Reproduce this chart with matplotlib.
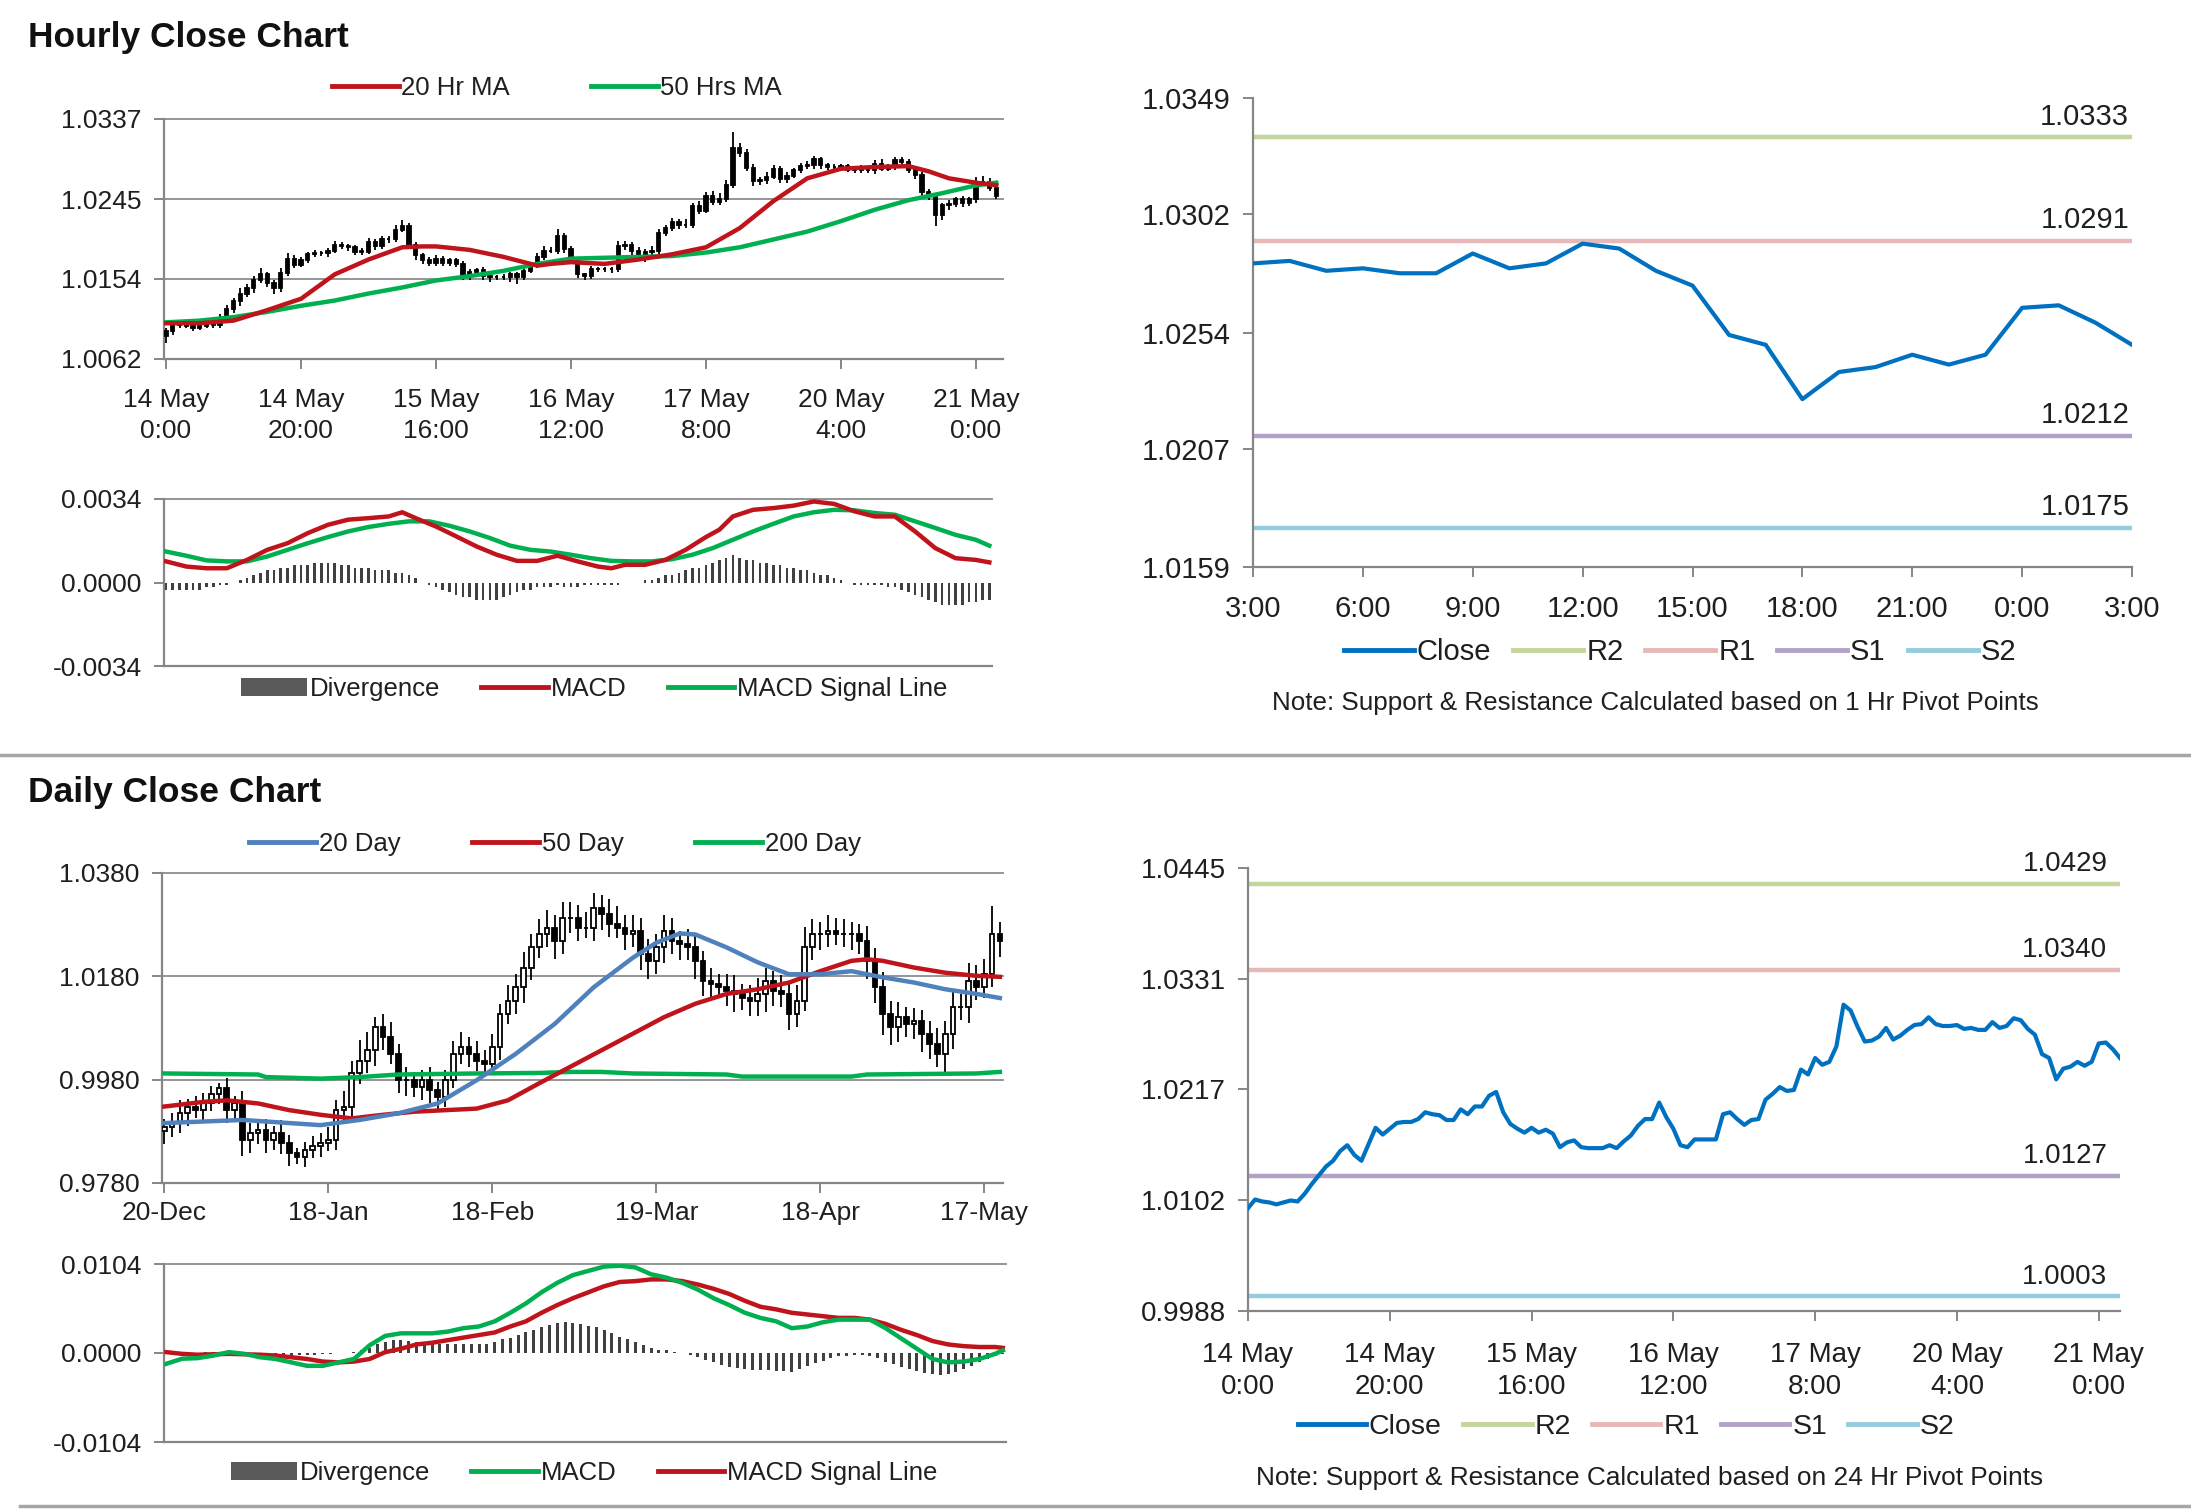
import numpy as np
import matplotlib
matplotlib.use('Agg')
import matplotlib.pyplot as plt
from matplotlib.lines import Line2D
from matplotlib.patches import Patch

plt.rcParams['font.family'] = ['Liberation Sans', 'DejaVu Sans']

W, H = 2191, 1511

# ---------------- data: hourly section ----------------
hourly_close = [
    1.0094, 1.0103, 1.0101, 1.0100, 1.0098, 1.0100, 1.0102, 1.0101, 1.0109, 1.0119,
    1.0128, 1.0137, 1.0143, 1.0153, 1.0159, 1.0149, 1.0143, 1.0160, 1.0177, 1.0170,
    1.0176, 1.0182, 1.0183, 1.0183, 1.0186, 1.0193, 1.0191, 1.0190, 1.0185, 1.0185,
    1.0196, 1.0191, 1.0199, 1.0199, 1.0210, 1.0214, 1.0193, 1.0181, 1.0176, 1.0172,
    1.0177, 1.0172, 1.0175, 1.0171, 1.0157, 1.0162, 1.0164, 1.0157, 1.0156, 1.0156,
    1.0156, 1.0159, 1.0156, 1.0163, 1.0169, 1.0179, 1.0186, 1.0186, 1.0203, 1.0188,
    1.0176, 1.0159, 1.0157, 1.0165, 1.0165, 1.0165, 1.0165, 1.0191, 1.0193, 1.0186,
    1.0180, 1.0185, 1.0186, 1.0206, 1.0212, 1.0219, 1.0215, 1.0216, 1.0237, 1.0232,
    1.0249, 1.0242, 1.0245, 1.0261, 1.0304, 1.0298, 1.0281, 1.0266, 1.0267, 1.0271,
    1.0280, 1.0268, 1.0272, 1.0278, 1.0283, 1.0284, 1.0291, 1.0284, 1.0282,
    1.0282, 1.0283, 1.0279, 1.0280, 1.0278, 1.0278, 1.0286, 1.0280, 1.0282, 1.0290,
    1.0288, 1.0279, 1.0273, 1.0253, 1.0249, 1.0227, 1.0238, 1.0240, 1.0245, 1.0241,
    1.0245, 1.0264, 1.0265, 1.0258, 1.0249,
]
hourly_first_open = 1.0088
# wick length beyond the candle body, in pips
hourly_hi_pips = [
    3, 2, 2, 3, 2, 2, 3, 3, 4, 5, 4, 6, 5, 4, 7, 3, 4, 6, 7, 4,
    3, 3, 4, 3, 3, 4, 3, 3, 3, 4, 5, 3, 4, 4, 6, 7, 4, 3, 3, 3,
    4, 3, 3, 3, 3, 3, 2, 3, 3, 2, 3, 3, 3, 4, 4, 5, 6, 4, 8, 3,
    3, 3, 2, 3, 2, 2, 2, 6, 4, 3, 4, 3, 5, 5, 4, 4, 3, 6, 4, 6,
    4, 5, 7, 6, 18, 6, 5, 4, 4, 5, 4, 3, 4, 3, 4, 5, 4, 3, 3, 4,
    3, 3, 3, 4, 3, 4, 5, 3, 4, 3, 3, 4, 3, 4, 3, 3, 4, 3, 4, 3,
    6, 7, 4, 3,
]
hourly_lo_pips = [
    8, 4, 3, 3, 4, 3, 3, 3, 3, 4, 4, 5, 4, 5, 4, 4, 6, 4, 3, 4,
    3, 4, 3, 3, 4, 3, 3, 4, 4, 4, 3, 4, 3, 4, 3, 3, 4, 5, 5, 4,
    4, 4, 4, 4, 5, 4, 4, 4, 6, 4, 4, 6, 8, 4, 3, 3, 4, 3, 4, 5,
    4, 4, 4, 3, 3, 3, 4, 3, 4, 5, 6, 7, 6, 4, 3, 3, 4, 3, 4, 4,
    3, 4, 3, 3, 3, 4, 4, 6, 5, 4, 3, 4, 4, 3, 3, 3, 4, 4, 4, 3,
    4, 3, 4, 3, 3, 4, 3, 3, 3, 3, 4, 5, 6, 5, 13, 6, 5, 4, 5, 4,
    4, 3, 4, 4,
]
hourly_xticks = [0, 20, 40, 60, 80, 100, 120]
hourly_xlabels = ['14 May\n0:00', '14 May\n20:00', '15 May\n16:00', '16 May\n12:00',
                  '17 May\n8:00', '20 May\n4:00', '21 May\n0:00']
hourly_yticks = [1.0062, 1.0154, 1.0245, 1.0337]

ma20h_x = [0, 5, 10, 15, 20, 25, 30, 35, 38, 40, 45, 50, 55, 57, 60, 65, 70, 75, 80,
           85, 90, 95, 100, 105, 110, 113, 116, 120, 123]
ma20h_y = [1.0103, 1.0103, 1.0106, 1.0118, 1.0131, 1.0159, 1.0176, 1.0190, 1.0191, 1.0191,
           1.0187, 1.0179, 1.0169, 1.0171, 1.0173, 1.0171, 1.0176, 1.0182, 1.0190,
           1.0212, 1.0243, 1.0269, 1.0280, 1.0282, 1.0283, 1.0277, 1.0269, 1.0264, 1.0261]
ma50h_x = [0, 5, 10, 15, 20, 25, 30, 35, 40, 45, 50, 55, 60, 65, 70, 75, 80, 85, 90,
           95, 100, 105, 110, 115, 120, 123]
ma50h_y = [1.0104, 1.0106, 1.0110, 1.0116, 1.0123, 1.0129, 1.0137, 1.0144, 1.0152, 1.0157,
           1.0163, 1.0171, 1.0177, 1.0178, 1.0179, 1.0180, 1.0184, 1.0190, 1.0199,
           1.0208, 1.0220, 1.0233, 1.0244, 1.0252, 1.0261, 1.0264]

macd_h_x = [0, 3, 6, 9, 12, 15, 18, 21, 24, 27, 30, 33, 35, 37, 40, 43, 46, 49, 52, 55,
            58, 61, 64, 66, 68, 71, 74, 77, 80, 82, 84, 87, 90, 93, 96, 99, 102, 105,
            108, 111, 114, 117, 120, 122]
macd_h = [0.00086, 0.00065, 0.00058, 0.00058, 0.00092, 0.00133, 0.00160, 0.00201, 0.00235,
          0.00256, 0.00262, 0.00269, 0.00286, 0.00262, 0.00228, 0.00188, 0.00147, 0.00113,
          0.00088, 0.00088, 0.00109, 0.00086, 0.00065, 0.00058, 0.00072, 0.00072, 0.00092,
          0.00133, 0.00185, 0.00215, 0.00269, 0.00296, 0.00303, 0.00313, 0.00330, 0.00320,
          0.00290, 0.00269, 0.00269, 0.00208, 0.00140, 0.00099, 0.00092, 0.00082]
signal_h_x = [0, 3, 6, 9, 12, 15, 18, 21, 24, 27, 30, 33, 36, 39, 42, 45, 48, 51, 54, 57,
              60, 63, 66, 69, 72, 75, 78, 81, 84, 87, 90, 93, 96, 99, 102, 105, 108, 111,
              114, 117, 120, 122]
signal_h = [0.00126, 0.00109, 0.00090, 0.00086, 0.00086, 0.00106, 0.00133, 0.00160, 0.00185,
            0.00208, 0.00226, 0.00239, 0.00249, 0.00249, 0.00231, 0.00208, 0.00181, 0.00150,
            0.00133, 0.00126, 0.00113, 0.00099, 0.00088, 0.00086, 0.00086, 0.00095, 0.00113,
            0.00140, 0.00174, 0.00208, 0.00239, 0.00269, 0.00286, 0.00296, 0.00294, 0.00283,
            0.00276, 0.00249, 0.00222, 0.00194, 0.00174, 0.00150]
# divergence bars, units of 0.0001
diverg_h = [
    -3, -3, -3, -3, -3, -3, -2, -2, -1, -1, 0, 1,
    2, 3, 4, 5, 5, 6, 6, 7, 7, 7,
    8, 8, 8, 8, 7, 7,
    6, 6, 6, 5, 5, 5, 4, 4, 3, 2,
    0, -1, -2, -3, -4, -5, -6,
    -6, -7, -7, -7, -7, -6, -5,
    -4, -3, -3, -2, -2, -2,
    -1, -2, -2, -2, -1, -1, -1, -1, -1, -1, 0, 0, 0,
    1, 1, 2, 3, 3, 4, 5, 6, 6, 7, 8, 9, 10, 11,
    10, 9, 9, 8, 8, 7, 7, 6, 6, 5, 5, 4, 3, 3, 2, 1, 0,
    -1, -1, -1, -1, -1, -2, -2, -3, -4, -5, -6, -7,
    -8, -9, -9, -9, -9, -8, -8, -7, -7, -7,
]
macd_h_ticks = [-0.0034, 0.0, 0.0034]

# last 24 hours, 1 hr pivots
hr_xlabels = ['3:00', '6:00', '9:00', '12:00', '15:00', '18:00', '21:00', '0:00', '3:00']
hr_yticks = [1.0159, 1.0207, 1.0254, 1.0302, 1.0349]
hr_pivots = {'R2': 1.0333, 'R1': 1.0291, 'S1': 1.0212, 'S2': 1.0175}

# ---------------- data: daily section ----------------
daily_close = [
    0.9889, 0.9896, 0.9915, 0.9928, 0.9921, 0.9934, 0.9953, 0.9963, 0.9921, 0.9934,
    0.9863, 0.9876, 0.9883, 0.9863, 0.9876, 0.9857, 0.9838, 0.9831, 0.9844, 0.9851,
    0.9857, 0.9863, 0.9921, 0.9928, 0.9992, 1.0017, 1.0037, 1.0082, 1.0062, 1.0030,
    0.9979, 0.9979, 0.9966, 0.9979, 0.9960, 0.9947, 0.9979, 1.0030, 1.0043, 1.0030,
    1.0017, 1.0011, 1.0043, 1.0107, 1.0133, 1.0159, 1.0197, 1.0236, 1.0261, 1.0274,
    1.0248, 1.0293, 1.0293, 1.0274, 1.0274, 1.0313, 1.0300, 1.0281, 1.0274, 1.0261,
    1.0268, 1.0223, 1.0210, 1.0236, 1.0268, 1.0248, 1.0242, 1.0236, 1.0210, 1.0171,
    1.0165, 1.0159, 1.0152, 1.0146, 1.0139, 1.0133, 1.0146, 1.0171, 1.0152, 1.0146,
    1.0107, 1.0133, 1.0236, 1.0261, 1.0261, 1.0268, 1.0261, 1.0261, 1.0261, 1.0248,
    1.0210, 1.0159, 1.0107, 1.0082, 1.0101, 1.0088, 1.0094, 1.0069, 1.0050, 1.0030,
    1.0069, 1.0120, 1.0120, 1.0171, 1.0159, 1.0184, 1.0261, 1.0248,
]
daily_first_open = 0.9880
daily_hi_pips = [
    15, 20, 25, 15, 20, 20, 15, 10, 20, 15, 25, 20, 15, 20, 15, 25, 15, 10, 15, 20,
    20, 25, 20, 30, 25, 40, 35, 20, 25, 30, 20, 25, 15, 20, 25, 15, 20, 25, 30, 20,
    25, 20, 25, 20, 30, 25, 30, 25, 30, 35, 25, 30, 30, 25, 30, 28, 25, 30, 35, 25,
    30, 25, 30, 25, 30, 25, 20, 30, 25, 20, 25, 20, 25, 30, 20, 25, 30, 25, 20, 30,
    25, 30, 40, 30, 25, 30, 25, 30, 25, 20, 30, 25, 30, 25, 30, 20, 25, 20, 25, 30,
    25, 30, 25, 35, 30, 30, 55, 25,
]
daily_lo_pips = [
    25, 20, 20, 25, 15, 20, 15, 20, 25, 20, 30, 25, 20, 25, 20, 20, 25, 15, 20, 15,
    20, 15, 20, 25, 30, 20, 25, 30, 25, 20, 25, 30, 20, 25, 25, 30, 20, 15, 20, 25,
    20, 25, 20, 25, 20, 25, 30, 25, 20, 25, 35, 25, 30, 25, 20, 25, 30, 25, 20, 30,
    25, 30, 35, 25, 30, 25, 30, 25, 35, 30, 25, 20, 30, 35, 25, 30, 30, 35, 30, 25,
    30, 25, 20, 25, 30, 25, 20, 25, 30, 25, 35, 30, 40, 35, 30, 25, 30, 35, 30, 25,
    35, 30, 25, 30, 25, 20, 25, 30,
]
daily_xticks = [0, 21, 42, 63, 84, 105]
daily_xlabels = ['20-Dec', '18-Jan', '18-Feb', '19-Mar', '18-Apr', '17-May']
daily_yticks = [0.9780, 0.9980, 1.0180, 1.0380]

ma20d_x = [0, 10, 20, 25, 30, 35, 40, 45, 50, 55, 60, 63, 66, 68, 72, 76, 80, 84, 88,
           92, 96, 100, 104, 107]
ma20d_y = [0.9896, 0.9902, 0.9892, 0.9902, 0.9915, 0.9934, 0.9979, 1.0030, 1.0088, 1.0159,
           1.0216, 1.0245, 1.0263, 1.0261, 1.0236, 1.0207, 1.0184, 1.0184, 1.0190,
           1.0178, 1.0168, 1.0155, 1.0146, 1.0138]
ma50d_x = [0, 5, 8, 12, 16, 20, 24, 28, 32, 36, 40, 44, 48, 52, 56, 60, 64, 68, 72, 76,
           80, 84, 88, 90, 92, 96, 100, 104, 107]
ma50d_y = [0.9928, 0.9937, 0.9940, 0.9934, 0.9921, 0.9912, 0.9905, 0.9912, 0.9918, 0.9921,
           0.9924, 0.9940, 0.9973, 1.0005, 1.0037, 1.0069, 1.0101, 1.0127, 1.0146, 1.0155,
           1.0168, 1.0190, 1.0210, 1.0213, 1.0210, 1.0197, 1.0187, 1.0181, 1.0179]
ma200d_x = [0, 12, 13, 20, 25, 30, 40, 48, 52, 56, 60, 72, 74, 88, 90, 104, 107]
ma200d_y = [0.9992, 0.9990, 0.9985, 0.9982, 0.9985, 0.9990, 0.9992, 0.9993, 0.9995, 0.9995,
            0.9992, 0.9990, 0.9986, 0.9986, 0.9990, 0.9992, 0.9995]

macd_d_x = list(range(0, 107, 2)) + [107]
macd_d = [-0.00126, -0.00067, -0.0006, -0.0003, 0.0001, -0.0001, -0.0005, -0.0007, -0.0011,
          -0.0015, -0.0015, -0.0011, -0.0007, 0.0009, 0.0020, 0.0023, 0.0023, 0.0023, 0.0025,
          0.0029, 0.0031, 0.0037, 0.0047, 0.0058, 0.0071, 0.0082, 0.0091, 0.0096, 0.0101,
          0.0102, 0.0100, 0.0092, 0.0088, 0.0082, 0.0074, 0.0064, 0.0056, 0.0047, 0.0041,
          0.0037, 0.0029, 0.0031, 0.0036, 0.0039, 0.0039, 0.0039, 0.0029, 0.0017, 0.0005,
          -0.0007, -0.0011, -0.0010, -0.0007, -0.0001, 0.0003]
signal_d_x = [0, 2, 4, 8, 12, 14, 16, 18, 20, 22, 24, 26, 28, 30, 32, 34, 36, 38, 40, 42,
              44, 46, 48, 50, 52, 54, 56, 58, 60, 62, 64, 66, 68, 70, 72, 74, 76, 78, 80,
              82, 84, 86, 88, 90, 92, 94, 96, 98, 100, 102, 104, 106, 107]
signal_d = [0.0001, -0.0001, -0.0002, -0.0001, -0.0002, -0.0003, -0.0005, -0.0007, -0.0010,
            -0.0011, -0.0010, -0.0007, 0.0001, 0.0005, 0.0010, 0.0012, 0.0015, 0.0018, 0.0021,
            0.0024, 0.0031, 0.0037, 0.0047, 0.0056, 0.0064, 0.0071, 0.0078, 0.0083, 0.0084,
            0.0086, 0.0086, 0.0084, 0.0080, 0.0075, 0.0069, 0.0061, 0.0054, 0.0051, 0.0047,
            0.0045, 0.0043, 0.0041, 0.0041, 0.0039, 0.0034, 0.0027, 0.0021, 0.0014, 0.0010,
            0.0008, 0.0007, 0.0007, 0.0006]
diverg_d = [
    -1, 0, 0, 0, 0, 1, 1, 1, 0, -1, -1, -2, -2, -3, -3, -3, -3, -2, -2, -2,
    -1, -1, 0, 0, 1, 3, 6, 10, 13, 15, 15, 14, 13, 12, 11, 11, 10, 10, 11, 11,
    10, 11, 13, 16, 18, 21, 24, 27, 30, 33, 35, 36, 35, 34, 32, 30, 27, 23, 19, 16,
    13, 9, 6, 4, 3, 1, 0, -2, -5, -8, -11, -14, -16, -18, -19, -20, -20, -20, -21, -21,
    -22, -19, -15, -12, -9, -6, -4, -3, -2, -2, -3, -6, -10, -13, -16, -19, -21, -23, -25, -26,
    -25, -22, -19, -15, -11, -7, -3, -1,
]
macd_d_ticks = [-0.0104, 0.0, 0.0104]

# hourly closes over the week, 24 hr pivots
wk_pivots = {'R2': 1.0429, 'R1': 1.0340, 'S1': 1.0127, 'S2': 1.0003}
wk_yticks = [0.9988, 1.0102, 1.0217, 1.0331, 1.0445]

# ---------------- styles ----------------
RED = '#C0141C'
GREEN = '#00B050'
BLUE20 = '#4F81BD'
CLOSE = '#0070C0'
PIVOT_COLORS = {'R2': '#C3D69B', 'R1': '#E6B9B8', 'S1': '#B3A2C7', 'S2': '#93CDDD'}
AXIS = '#868686'
GRID = '#8C8C8C'
TXT = '#1f1f1f'
FS = 19
LEG_FS = 18.5


def px_axes(fig, left, top, right, bottom):
    return fig.add_axes([left / W, 1 - bottom / H, (right - left) / W, (bottom - top) / H])


def excel_style(ax, xpad=12, fs=FS):
    for s in ['top', 'right']:
        ax.spines[s].set_visible(False)
    for s in ['left', 'bottom']:
        ax.spines[s].set_color(AXIS)
        ax.spines[s].set_linewidth(1.6)
    ax.tick_params(direction='out', length=7, width=1.4, color=AXIS,
                   labelsize=fs, labelcolor=TXT)
    ax.tick_params(axis='y', pad=9)
    ax.tick_params(axis='x', pad=xpad)


def draw_candles(ax, closes, first_open, hi_pips, lo_pips, width, lw, up_face):
    c = np.array(closes)
    o = np.r_[first_open, c[:-1]]
    hi = np.maximum(o, c) + np.array(hi_pips) * 1e-4
    lo = np.minimum(o, c) - np.array(lo_pips) * 1e-4
    x = np.arange(len(c))
    ax.vlines(x, lo, hi, color='black', lw=1.3, zorder=3)
    up = c >= o
    bottom = np.minimum(o, c)
    height = np.maximum(np.abs(c - o), 0.00003)
    ax.bar(x[up], height[up], width, bottom=bottom[up], facecolor=up_face,
           edgecolor='black', lw=lw, zorder=4)
    ax.bar(x[~up], height[~up], width, bottom=bottom[~up], facecolor='black',
           edgecolor='black', lw=lw, zorder=4)


def price_panel(ax, yticks, xticks, xlabels, xlim, xpad):
    excel_style(ax, xpad)
    ax.set_ylim(yticks[0], yticks[-1])
    ax.set_yticks(yticks)
    ax.set_yticklabels([f'{v:.4f}' for v in yticks])
    ax.set_xlim(*xlim)
    ax.set_xticks(xticks)
    ax.set_xticklabels(xlabels, linespacing=1.38)
    for v in yticks[1:]:
        ax.axhline(v, color=GRID, lw=1.3, zorder=1, clip_on=False)


def macd_panel(ax, ticks, xlim, hist, mx, my, sx, sy, mcol, scol):
    excel_style(ax)
    ax.set_ylim(ticks[0], ticks[-1])
    ax.set_yticks(ticks)
    ax.set_yticklabels([f'{v:.4f}' for v in ticks])
    ax.set_xlim(*xlim)
    ax.set_xticks([])
    ax.axhline(ticks[-1], color=GRID, lw=1.3, clip_on=False)
    ax.bar(np.arange(len(hist)), np.array(hist) * 1e-4, 0.38, color='#404040', zorder=2)
    ax.plot(sx, sy, color=scol, lw=3.2, zorder=3, solid_joinstyle='round')
    ax.plot(mx, my, color=mcol, lw=3.2, zorder=4, solid_joinstyle='round')


def pivot_panel(ax, x, close, pivots, yticks, xticks, xlabels, xlim, lab_dx, xpad, fs):
    excel_style(ax, xpad, fs)
    for name, lvl in pivots.items():
        ax.axhline(lvl, color=PIVOT_COLORS[name], lw=3.2, zorder=2)
        ax.annotate(f'{lvl:.4f}', xy=(1, lvl), xycoords=('axes fraction', 'data'),
                    xytext=(lab_dx, 5), textcoords='offset points', ha='right',
                    va='bottom', fontsize=fs, color=TXT)
    ax.plot(x, close, color=CLOSE, lw=3, zorder=3, solid_joinstyle='round')
    ax.set_ylim(yticks[0], yticks[-1])
    ax.set_yticks(yticks)
    ax.set_yticklabels([f'{v:.4f}' for v in yticks])
    ax.set_xlim(*xlim)
    ax.set_xticks(xticks)
    ax.set_xticklabels(xlabels, linespacing=1.3)


def line_legend(fig, items, cx, cy, spacing, extra=None):
    handles = []
    if extra is not None:
        handles.append(extra)
    handles += [Line2D([], [], color=c, lw=3.5, label=l) for l, c in items]
    fig.legend(handles=handles, loc='center', bbox_to_anchor=(cx / W, 1 - cy / H),
               ncol=len(handles), frameon=False, fontsize=LEG_FS, handlelength=2.6,
               handletextpad=0.1, columnspacing=spacing, labelcolor=TXT)


def pivot_legend(fig, cx, cy, fs):
    items = [('Close', CLOSE)] + [(k, PIVOT_COLORS[k]) for k in ['R2', 'R1', 'S1', 'S2']]
    handles = [Line2D([], [], color=c, lw=3.5, label=l) for l, c in items]
    fig.legend(handles=handles, loc='center', bbox_to_anchor=(cx / W, 1 - cy / H),
               ncol=5, frameon=False, fontsize=fs, handlelength=2.4,
               handletextpad=0.1, columnspacing=0.75, labelcolor=TXT)


fig = plt.figure(figsize=(W / 100, H / 100), dpi=100)

# ---------------- hourly section ----------------
fig.text(28 / W, 1 - 37 / H, 'Hourly Close Chart', fontsize=25.5, fontweight='bold',
         va='center', ha='left', color='#111111')

ax = px_axes(fig, 164, 119, 1003, 359)
price_panel(ax, hourly_yticks, hourly_xticks, hourly_xlabels, (-0.3, 124), 14)
draw_candles(ax, hourly_close, hourly_first_open, hourly_hi_pips, hourly_lo_pips,
             0.5, 1.3, 'black')
ax.plot(ma50h_x, ma50h_y, color=GREEN, lw=3.2, zorder=5)
ax.plot(ma20h_x, ma20h_y, color=RED, lw=3.2, zorder=6)
line_legend(fig, [('20 Hr MA', RED), ('50 Hrs MA', GREEN)], 557, 88, 3.15)

ax = px_axes(fig, 164, 499, 992, 666)
macd_panel(ax, macd_h_ticks, (-0.3, 122.4), diverg_h, macd_h_x, macd_h,
           signal_h_x, signal_h, RED, GREEN)
div_patch = Patch(facecolor='#595959', label='Divergence')
line_legend(fig, [('MACD', RED), ('MACD Signal Line', GREEN)], 594, 689, 1.6,
            extra=div_patch)

ax = px_axes(fig, 1253, 98, 2132, 567)
last24 = hourly_close[-25:]
pivot_panel(ax, np.arange(len(last24)), last24, hr_pivots, hr_yticks,
            np.arange(0, 25, 3), hr_xlabels, (0, 24), -2, 13, 21)
pivot_legend(fig, 1680, 652, 21)
fig.text(1655 / W, 1 - 703 / H, 'Note: Support & Resistance Calculated based on 1 Hr Pivot Points',
         fontsize=18.7, ha='center', va='center', color=TXT)

fig.add_artist(Line2D([0, 1], [1 - 755 / H, 1 - 755 / H], color='#A6A6A6', lw=2.5))

# ---------------- daily section ----------------
fig.text(28 / W, 1 - 792 / H, 'Daily Close Chart', fontsize=25.5, fontweight='bold',
         va='center', ha='left', color='#111111')

ax = px_axes(fig, 162, 873, 1003, 1183)
price_panel(ax, daily_yticks, daily_xticks, daily_xlabels, (-0.3, 107.4), 6)
draw_candles(ax, daily_close, daily_first_open, daily_hi_pips, daily_lo_pips,
             0.6, 1.3, 'white')
ax.plot(ma200d_x, ma200d_y, color=GREEN, lw=3.2, zorder=5)
ax.plot(ma50d_x, ma50d_y, color=RED, lw=3.2, zorder=6)
ax.plot(ma20d_x, ma20d_y, color=BLUE20, lw=3.2, zorder=7)
line_legend(fig, [('20 Day', BLUE20), ('50 Day', RED), ('200 Day', GREEN)], 555, 844, 2.8)

ax = px_axes(fig, 164, 1264, 1006, 1442)
macd_panel(ax, macd_d_ticks, (-0.3, 107.4), diverg_d, macd_d_x, macd_d,
           signal_d_x, signal_d, GREEN, RED)
line_legend(fig, [('MACD', GREEN), ('MACD Signal Line', RED)], 584, 1473, 1.6,
            extra=Patch(facecolor='#595959', label='Divergence'))

ax = px_axes(fig, 1248, 868, 2120, 1311)
pivot_panel(ax, np.arange(len(hourly_close)), hourly_close, wk_pivots, wk_yticks,
            hourly_xticks, hourly_xlabels, (0, 123), -9, 15, 20)
pivot_legend(fig, 1626, 1427, 20.5)
fig.text(1650 / W, 1 - 1478 / H, 'Note: Support & Resistance Calculated based on 24 Hr Pivot Points',
         fontsize=18.9, ha='center', va='center', color=TXT)

fig.add_artist(Line2D([20 / W, 1], [1 - 1506 / H, 1 - 1506 / H], color='#A6A6A6', lw=2.5))

fig.savefig('out.png', dpi=100, facecolor='white')
